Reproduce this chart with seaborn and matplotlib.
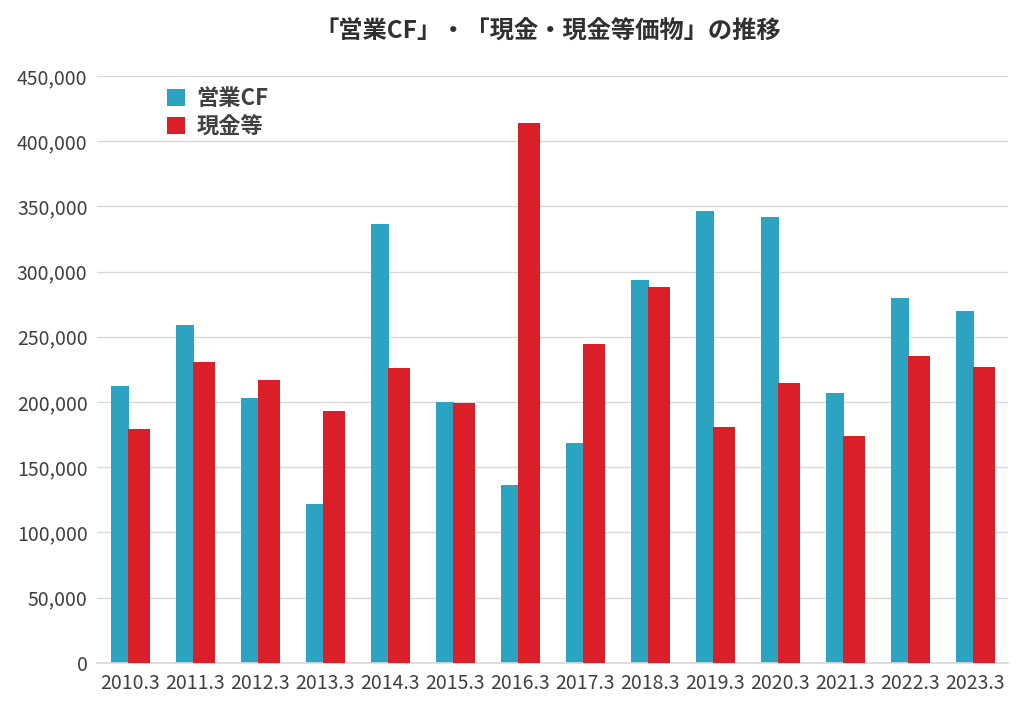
import matplotlib
matplotlib.use("Agg")
import matplotlib.pyplot as plt
import seaborn as sns
import pandas as pd
from matplotlib.patches import Patch

years = ["2010.3", "2011.3", "2012.3", "2013.3", "2014.3", "2015.3", "2016.3",
         "2017.3", "2018.3", "2019.3", "2020.3", "2021.3", "2022.3", "2023.3"]
operating_cf = [212000, 259000, 203000, 122000, 336500, 200000, 136000,
                168500, 293500, 346500, 342000, 207000, 280000, 270000]
cash = [179000, 230500, 217000, 193000, 226000, 199500, 413500,
        244500, 288000, 181000, 214500, 174000, 235500, 227000]
series_names = ["営業CF", "現金等"]
yticks = list(range(0, 450001, 50000))
title = "「営業CF」・「現金・現金等価物」の推移"

sns.set_theme(style="white")
plt.rcParams["font.family"] = ["Noto Sans CJK JP", "DejaVu Sans"]

df = pd.DataFrame({
    "year": years * 2,
    "value": operating_cf + cash,
    "series": [series_names[0]] * len(years) + [series_names[1]] * len(years),
})

colors = ["#2CA3C1", "#DA1F29"]
text_color = "#404040"

fig = plt.figure(figsize=(10.24, 7.09), dpi=100)
ax = fig.add_axes([0.095, 0.065, 0.889, 0.828])

sns.barplot(data=df, x="year", y="value", hue="series", hue_order=series_names,
            palette=colors, width=0.6, dodge=True, ax=ax, legend=False,
            saturation=1, linewidth=0)

# Excel-like overlapping bars: red bar partly covers the blue one
for i, p in enumerate(ax.containers[0].patches):
    p.set_x(i - 0.29)
    p.set_width(0.28)
    p.set_zorder(2)
for i, p in enumerate(ax.containers[1].patches):
    p.set_x(i - 0.03)
    p.set_width(0.34)
    p.set_zorder(3)

ax.set_xlim(-0.5, len(years) - 0.5)
ax.set_ylim(0, 450000)
ax.set_yticks(yticks)
ax.set_yticklabels([f"{v:,}" for v in yticks])
ax.yaxis.grid(True, color="#d9d9d9", linewidth=1)
ax.set_axisbelow(True)
for s in ["top", "right", "left"]:
    ax.spines[s].set_visible(False)
ax.spines["bottom"].set_color("#d9d9d9")
ax.tick_params(axis="both", length=0, labelsize=14, colors=text_color, pad=7)
ax.set_xlabel("")
ax.set_ylabel("")

fig.suptitle(title, x=0.535, y=0.972, fontsize=17.5, fontweight="bold", color="#303030")

handles = [Patch(facecolor=c, edgecolor="none") for c in colors]
leg = ax.legend(handles, series_names, loc="upper left", bbox_to_anchor=(0.055, 1.015),
                frameon=False, handlelength=0.8, handleheight=0.8, handletextpad=0.5,
                labelspacing=0.25, prop={"size": 16, "weight": "bold"})
for t in leg.get_texts():
    t.set_color(text_color)

fig.savefig("out.png", dpi=100)
